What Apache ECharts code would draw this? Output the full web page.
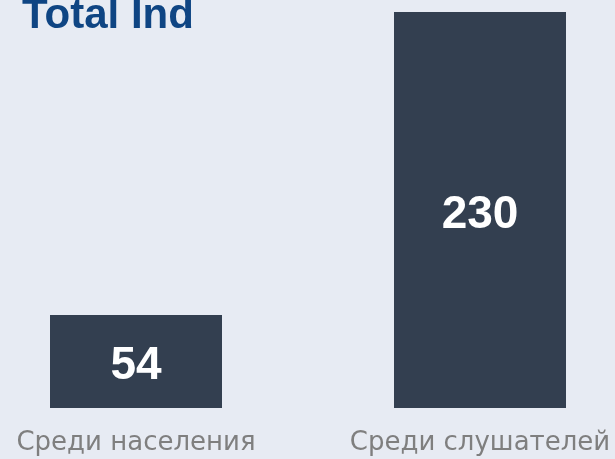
<!DOCTYPE html>
<html lang="en">
<head>
    <meta charset="UTF-8">
    <title>Total Ind</title>
    <script src="https://cdn.jsdelivr.net/npm/echarts@6/dist/echarts.min.js"></script>
    <style>
        html, body { margin: 0; padding: 0; background: #e7ebf3; }
        #chart { width: 615px; height: 459px; }
    </style>
</head>
<body>
    <div id="chart"></div>
    <script>
    // данные
    var categories = ['Среди населения', 'Среди слушателей'];
    var values = [54, 230];

    var chart = echarts.init(document.getElementById('chart'));
    chart.setOption({
        backgroundColor: '#e7ebf3',
        animation: false,
        title: {
            text: 'Total Ind',
            left: 17,
            top: -10,
            textStyle: {
                color: '#0f4583',
                fontFamily: 'Liberation Sans',
                fontWeight: 'bold',
                fontSize: 42
            }
        },
        grid: { left: 136, right: 135, top: 12, bottom: 51 },
        xAxis: {
            type: 'category',
            data: categories,
            boundaryGap: false,
            axisLine: { show: false },
            axisTick: { show: false },
            axisLabel: {
                color: '#7f7f7f',
                fontFamily: 'DejaVu Sans',
                fontSize: 26,
                margin: 22
            }
        },
        yAxis: {
            type: 'value',
            min: 0,
            max: 230,
            show: false,
            splitLine: { show: false }
        },
        series: [{
            type: 'bar',
            data: values,
            barWidth: 172,
            clip: false,
            itemStyle: { color: '#333f50' },
            label: {
                show: true,
                position: 'inside',
                offset: [0, 5],
                color: '#ffffff',
                fontFamily: 'Liberation Sans',
                fontWeight: 'bold',
                fontSize: 46
            }
        }]
    });
    </script>
</body>
</html>
